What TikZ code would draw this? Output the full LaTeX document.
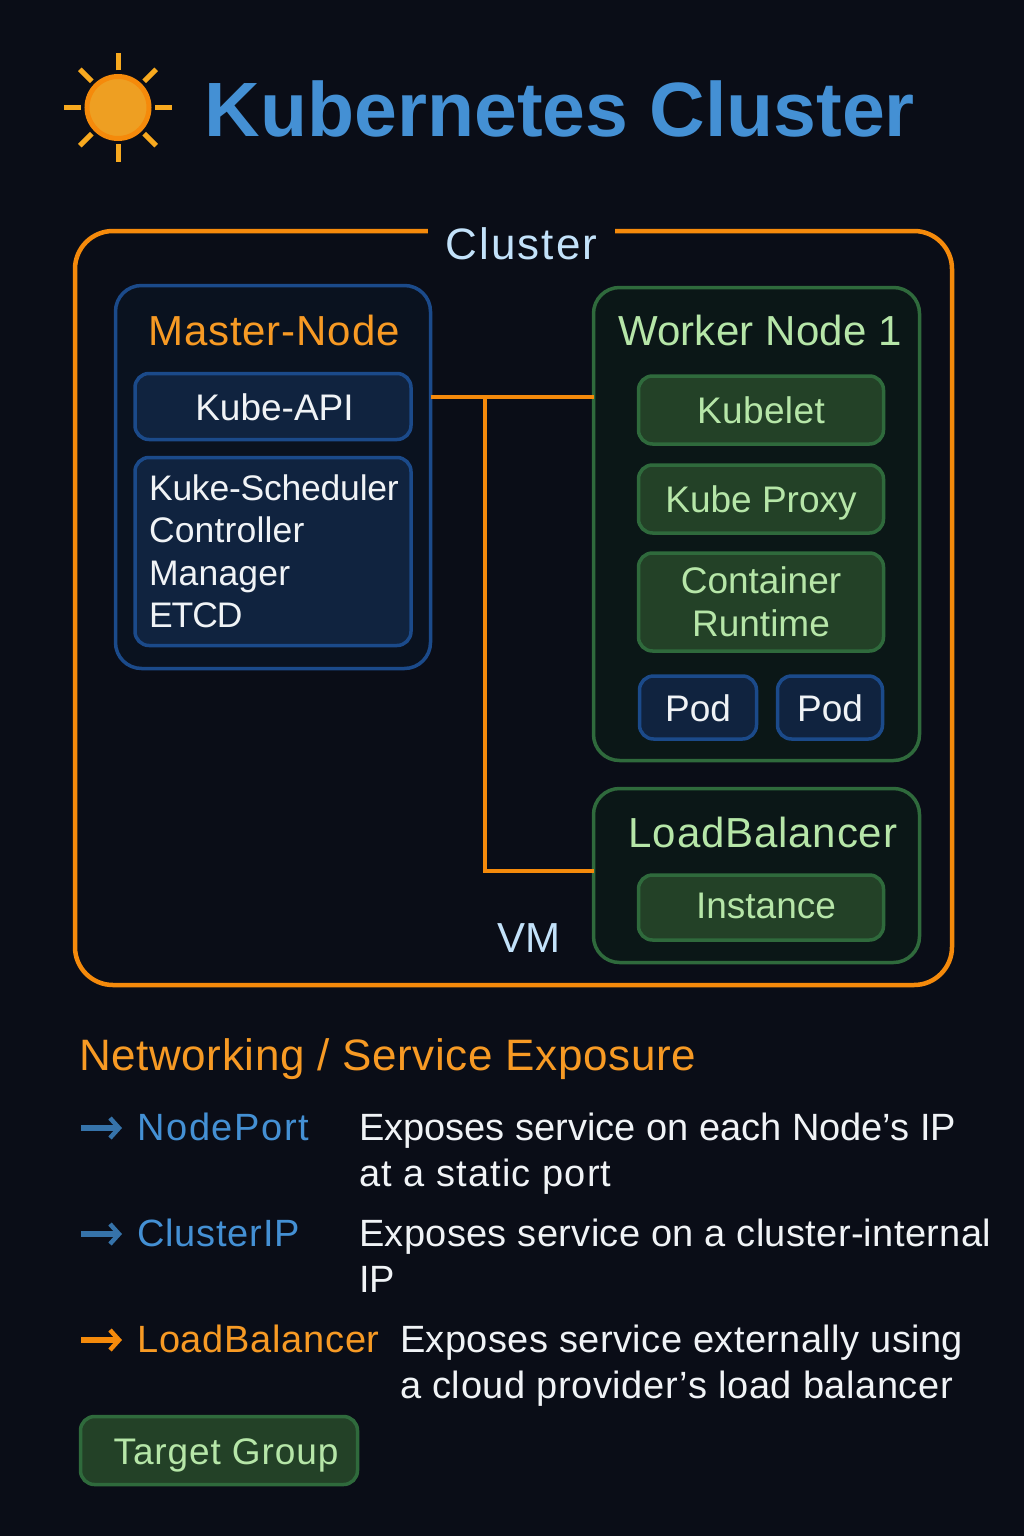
\documentclass[tikz,border=0pt]{standalone}
\usepackage{fontspec}
\setmainfont{Liberation Sans}
\usepackage{tikz}
\usetikzlibrary{positioning,arrows.meta}
\definecolor{bgdark}{HTML}{0A0D17}
\definecolor{orangeline}{HTML}{F58A0B}
\definecolor{orangetext}{HTML}{F79A24}
\definecolor{sunfill}{HTML}{EE9F22}
\definecolor{skytext}{HTML}{C3E2FA}
\definecolor{bluetext}{HTML}{4490D4}
\definecolor{blueline}{HTML}{1B4A8A}
\definecolor{bluefill}{HTML}{10233F}
\definecolor{bluepanel}{HTML}{0A121F}
\definecolor{greentext}{HTML}{B6E6A8}
\definecolor{greenline}{HTML}{2F6A3C}
\definecolor{greenfill}{HTML}{234127}
\definecolor{greenpanel}{HTML}{0B1717}
\definecolor{whitetext}{HTML}{F0F3F6}
\newcommand{\spaced}[1]{\addfontfeature{LetterSpace=#1}}
\tikzset{
panelblue/.style={rectangle, rounded corners=26pt, line width=3.5pt, draw=blueline, fill=bluepanel, outer sep=0pt},
panelgreen/.style={rectangle, rounded corners=26pt, line width=3.5pt, draw=greenline, fill=greenpanel, outer sep=0pt},
itemblue/.style={rectangle, rounded corners=14pt, line width=3.5pt, draw=blueline, fill=bluefill, text=whitetext, font=\fontsize{37}{43}\selectfont, outer sep=0pt, inner sep=0pt},
itemgreen/.style={rectangle, rounded corners=14pt, line width=3.5pt, draw=greenline, fill=greenfill, text=greentext, font=\fontsize{37}{43}\selectfont, outer sep=0pt, inner sep=0pt, minimum width=245pt},
oneline/.style={text height=27.5pt, text depth=0pt},
heading/.style={inner sep=0pt, anchor=base, font=\fontsize{42}{48}\selectfont},
legend/.style={inner sep=0pt, anchor=base west, font=\fontsize{38}{46}\selectfont},
link/.style={orangeline, line width=4.5pt},
ray/.style={line width=5pt, draw=orangetext!85!yellow},
pointer/.style={line width=5.5pt, -{Straight Barb[length=9pt,width=20pt,line width=4.5pt]}, shorten >=15pt}
}
\begin{document}
\begin{tikzpicture}[x=1pt,y=-1pt]
        \useasboundingbox[fill=bgdark] (0,0) rectangle (1024,1536);

        \node[circle, minimum size=62pt, inner sep=0pt, line width=5pt, draw=orangeline, fill=sunfill] (sun) at (118,107.5) {};
        \foreach \ang in {0,45,...,315}
            \draw[ray] (sun.center) ++(\ang:37) -- ++(\ang:17);
        \node[anchor=base west, inner sep=0pt, text=bluetext, font=\fontsize{77}{90}\selectfont\bfseries] (title) at (204.5,137) {Kubernetes Cluster};

        \node[rectangle, rounded corners=38pt, line width=4.5pt, draw=orangeline, minimum width=877pt, minimum height=754pt, outer sep=0pt] (cluster) at (513.5,608) {};
        \node[fill=bgdark, text=skytext, font=\fontsize{44}{50}\selectfont, minimum width=187pt, inner sep=2pt] (clusterlabel) at (521.5,244) {\spaced{4.5}Cluster};

        % master side
        \node[panelblue, minimum width=315pt, minimum height=383pt] (master) at (273,477) {};
        \node[heading, text=orangetext] (mastertitle) at (274,345) {\spaced{2}Master-Node};
        \node[itemblue, oneline, minimum width=276pt, minimum height=66pt] (kubeapi) at (273,406.5) {\hspace*{3pt}Kube-API};
        \node[itemblue, below=18pt of kubeapi, minimum height=188pt, text width=248pt, inner xsep=14pt, align=left, font=\fontsize{35.5}{42.5}\selectfont] (scheduler) {\mbox{\spaced{-0.6}Kuke-Scheduler}\\\spaced{0.5}Controller\\Manager\\\spaced{-3}ETCD};

        % worker side
        \node[panelgreen, minimum width=326pt, minimum height=473pt] (worker) at (756.5,524) {};
        \node[heading, text=greentext] (workertitle) at (760,345) {\spaced{0.5}Worker Node 1};
        \node[itemgreen, oneline, minimum height=68pt] (kubelet) at (761,410) {\spaced{1}Kubelet};
        \node[itemgreen, oneline, below=21pt of kubelet, minimum height=68pt] (kubeproxy) {Kube Proxy};
        \node[itemgreen, below=20pt of kubeproxy, minimum height=98pt, align=center] (runtime) {Container\\Runtime};
        \node[itemblue, oneline, below right=25pt and 1pt of runtime.south west, minimum width=117pt, minimum height=63pt] (podone) {Pod};
        \node[itemblue, oneline, right=21pt of podone, minimum width=105pt, minimum height=63pt] (podtwo) {Pod};

        \node[panelgreen, minimum width=326pt, minimum height=174pt] (lb) at (756.5,875.5) {};
        \node[heading, text=greentext] (lbtitle) at (763,847) {\spaced{2}LoadBalancer};
        \node[itemgreen, text height=21pt, text depth=0pt, minimum height=65pt] (instance) at (761,907.5) {\hspace*{10pt}Instance};
        \node[heading, text=skytext] (vm) at (529,952) {VM};

        % links
        \coordinate (tee) at (485,397);
        \coordinate (corner) at (485,871);
        \draw[link] (master.east |- tee) -- (worker.west |- tee);
        \draw[link] (tee) -- (corner) -- (lb.west |- corner);

        % networking legend
        \node[legend, text=orangetext, font=\fontsize{44}{50}\selectfont] (nettitle) at (79,1070) {\spaced{1.4}Networking / Service Exposure};
        \node[legend, text=bluetext] (nodeport) at (137,1140) {\spaced{4.4}NodePort};
        \node[legend, text=bluetext] (clusterip) at (137,1246) {\spaced{2.2}ClusterIP};
        \node[legend, text=orangetext] (lbtype) at (137,1352) {\spaced{1.9}LoadBalancer};
        \node[legend, text=whitetext] (nodeportline) at (359,1140) {Exposes service on each Node’s IP};
        \node[legend, text=whitetext] (nodeportmore) at (359,1186) {\spaced{3}at a static port};
        \node[legend, text=whitetext] (clusteripline) at (359,1246) {\spaced{0.9}Exposes service on a cluster-internal};
        \node[legend, text=whitetext] (clusteripmore) at (359,1292) {IP};
        \node[legend, text=whitetext] (lbline) at (400,1352) {\spaced{1.1}Exposes service externally using};
        \node[legend, text=whitetext] (lbmore) at (400,1398) {\spaced{1.5}a cloud provider’s load balancer};

        \coordinate (nodeporttail) at (81,1128);
        \coordinate (clusteriptail) at (81,1234);
        \coordinate (lbtail) at (81,1340);
        \draw[pointer, draw=bluetext!80!black] (nodeporttail) -- (nodeporttail -| nodeport.west);
        \draw[pointer, draw=bluetext!80!black] (clusteriptail) -- (clusteriptail -| clusterip.west);
        \draw[pointer, draw=orangeline] (lbtail) -- (lbtail -| lbtype.west);

        \node[itemgreen, oneline, minimum width=277pt, minimum height=68pt] (target) at (219,1450.5) {\hspace*{14pt}\spaced{2.4}Target Group};
    \end{tikzpicture}
\end{document}
